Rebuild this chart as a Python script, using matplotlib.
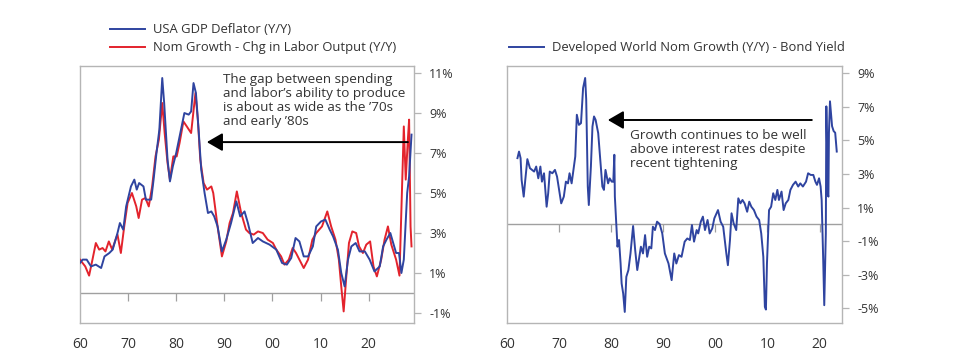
import numpy as np
import matplotlib
matplotlib.use("Agg")
import matplotlib.pyplot as plt
from matplotlib.markers import TICKDOWN

plt.rcParams['font.family'] = ['Open Sans', 'DejaVu Sans']

# Panneau gauche : déflateur du PIB US et croissance nominale - production du travail
defl_years = [1960.0, 1960.55, 1961.4, 1962.3, 1963.3, 1964.4, 1965.1, 1966.1, 1966.8, 1967.8,
              1968.3, 1969.0, 1969.6, 1970.6, 1971.3, 1971.8, 1972.3, 1973.2, 1973.7, 1974.8,
              1975.3, 1975.9, 1976.5, 1977.1, 1977.5, 1978.2, 1978.7, 1979.3, 1980.0, 1981.0,
              1981.7, 1982.6, 1983.1, 1983.6, 1984.1, 1984.7, 1985.2, 1985.9, 1986.6, 1987.3,
              1987.9, 1988.6, 1989.5, 1990.4, 1991.4, 1992.5, 1993.3, 1994.2, 1994.9, 1995.9,
              1997.0, 1998.0, 1999.4, 2000.8, 2002.0, 2003.0, 2003.9, 2004.8, 2005.6, 2006.5,
              2007.4, 2008.4, 2009.1, 2010.1, 2011.0, 2011.9, 2012.6, 2013.6, 2014.3, 2015.0,
              2015.7, 2016.4, 2017.3, 2018.1, 2019.2, 2020.2, 2021.2, 2022.3, 2023.0, 2023.7,
              2024.5, 2025.0, 2025.7, 2026.3, 2026.8, 2027.3, 2028.0, 2028.4, 2028.9]
defl_vals = [1.50, 1.67, 1.67, 1.33, 1.42, 1.25, 1.83, 2.0, 2.17, 3.0,
             3.5, 3.17, 4.33, 5.33, 5.67, 5.17, 5.5, 5.33, 4.67, 4.67,
             5.67, 7.0, 8.17, 10.75, 9.5, 6.67, 5.58, 6.33, 7.0, 8.17,
             9.0, 8.92, 9.08, 10.5, 10.0, 8.0, 6.17, 5.0, 4.0, 4.08,
             3.83, 3.33, 2.08, 2.67, 3.5, 4.58, 3.83, 4.08, 3.5, 2.5,
             2.75, 2.58, 2.42, 2.17, 1.5, 1.42, 1.75, 2.75, 2.58, 1.83,
             1.83, 2.33, 3.33, 3.58, 3.67, 3.17, 2.83, 2.17, 1.0, 0.33,
             1.67, 2.33, 2.5, 2.08, 2.08, 1.67, 1.08, 1.33, 2.33, 2.67,
             3.0, 2.58, 2.0, 2.0, 1.0, 1.67, 5.0, 5.83, 7.92]

nom_years = [1960.0, 1961.1, 1961.9, 1962.6, 1963.3, 1964.0, 1964.7, 1965.3, 1966.0, 1966.7,
             1967.4, 1967.8, 1968.5, 1969.2, 1969.9, 1970.8, 1971.7, 1972.2, 1972.9, 1973.6,
             1974.3, 1975.0, 1975.7, 1976.4, 1977.1, 1977.6, 1978.2, 1978.7, 1979.4, 1980.1,
             1980.7, 1981.5, 1982.2, 1983.1, 1984.0, 1984.5, 1985.0, 1985.7, 1986.4, 1987.3,
             1987.7, 1988.6, 1989.5, 1990.4, 1991.1, 1991.8, 1992.6, 1993.5, 1994.5, 1995.2,
             1996.1, 1997.0, 1998.0, 1999.0, 2000.1, 2000.8, 2001.8, 2002.5, 2003.4, 2004.2,
             2004.9, 2005.6, 2006.5, 2007.4, 2008.3, 2009.1, 2010.3, 2011.4, 2012.2, 2013.1,
             2013.8, 2014.3, 2014.8, 2015.3, 2015.9, 2016.6, 2017.4, 2018.0, 2018.8, 2019.5,
             2020.3, 2021.0, 2021.7, 2022.6, 2023.3, 2024.0, 2024.7, 2025.7, 2026.4, 2026.9,
             2027.3, 2027.7, 2028.1, 2028.4, 2028.7, 2028.9]
nom_vals = [1.67, 1.33, 0.87, 1.67, 2.5, 2.17, 2.25, 2.08, 2.58, 2.17,
            2.67, 2.92, 2.0, 3.33, 4.5, 5.0, 4.33, 3.75, 4.67, 4.75,
            4.33, 5.33, 6.83, 7.67, 9.5, 8.0, 6.5, 5.67, 6.83, 6.83,
            7.5, 8.58, 8.33, 8.0, 10.0, 8.67, 6.67, 5.5, 5.17, 5.33,
            5.0, 3.33, 1.83, 2.58, 3.5, 4.0, 5.08, 4.0, 3.17, 3.0,
            2.92, 3.08, 3.0, 2.67, 2.5, 2.17, 1.83, 1.42, 1.67, 2.25,
            2.0, 1.67, 1.25, 1.67, 2.67, 3.0, 3.33, 4.08, 3.33, 2.67,
            1.67, 0.33, -0.92, 0.67, 2.5, 3.08, 3.0, 2.33, 2.0, 2.42,
            2.58, 1.33, 0.83, 1.67, 2.67, 3.33, 2.42, 1.67, 0.87, 5.0,
            8.33, 5.67, 7.5, 8.67, 3.33, 2.33]

# Panneau droit : croissance nominale monde développé - rendement obligataire
dw_years = [1962.0, 1962.3, 1962.6, 1962.8, 1963.2, 1963.5, 1963.9, 1964.4, 1964.8, 1965.2,
            1965.6, 1966.0, 1966.4, 1966.7, 1967.1, 1967.6, 1967.9, 1968.2, 1968.7, 1969.2,
            1969.6, 1970.0, 1970.4, 1970.9, 1971.3, 1971.7, 1972.0, 1972.4, 1972.8, 1973.1,
            1973.4, 1973.8, 1974.2, 1974.6, 1975.0, 1975.2, 1975.5, 1975.7, 1976.1, 1976.4,
            1976.7, 1977.0, 1977.5, 1977.9, 1978.3, 1978.6, 1978.9, 1979.4, 1979.7, 1980.1,
            1980.4, 1980.6, 1980.7, 1981.0, 1981.2, 1981.5, 1981.8, 1982.0, 1982.3, 1982.6,
            1982.9, 1983.3, 1983.7, 1984.2, 1984.6, 1985.0, 1985.4, 1985.7, 1986.1, 1986.5,
            1986.9, 1987.3, 1987.7, 1988.0, 1988.4, 1988.8, 1989.3, 1989.8, 1990.3, 1991.0,
            1991.6, 1992.1, 1992.5, 1993.0, 1993.5, 1994.1, 1994.6, 1995.1, 1995.5, 1995.9,
            1996.4, 1996.7, 1997.2, 1997.6, 1998.0, 1998.5, 1998.9, 1999.4, 1999.8, 2000.5,
            2001.0, 2001.5, 2002.1, 2002.4, 2002.8, 2003.1, 2003.5, 2004.0, 2004.4, 2004.8,
            2005.2, 2005.6, 2006.1, 2006.5, 2006.9, 2007.4, 2007.9, 2008.4, 2008.8, 2009.2,
            2009.5, 2009.7, 2009.9, 2010.3, 2010.7, 2011.1, 2011.5, 2011.9, 2012.2, 2012.7,
            2013.1, 2013.5, 2014.0, 2014.4, 2014.9, 2015.4, 2015.9, 2016.3, 2016.8, 2017.4,
            2017.8, 2018.3, 2018.8, 2019.2, 2019.5, 2019.9, 2020.2, 2020.4, 2020.7, 2020.9,
            2021.2, 2021.3, 2021.6, 2021.7, 2021.8, 2022.0, 2022.4, 2022.7, 2023.0, 2023.3]
dw_vals = [3.94, 4.33, 3.94, 2.64, 1.65, 2.64, 3.88, 3.34, 3.24, 3.14,
           3.44, 2.74, 3.44, 2.54, 3.04, 1.05, 1.85, 3.14, 3.04, 3.24,
           2.84, 2.05, 1.25, 1.65, 2.54, 2.44, 3.04, 2.44, 3.34, 4.04,
           6.52, 5.92, 6.02, 8.11, 8.71, 7.42, 2.25, 1.15, 3.44, 5.82,
           6.42, 6.22, 5.43, 3.83, 2.25, 2.05, 3.24, 2.44, 2.74, 2.54,
           2.54, 4.14, 1.65, -0.14, -1.33, -0.93, -2.33, -3.52, -4.12, -5.21,
           -3.12, -2.72, -1.73, -0.10, -1.53, -2.72, -1.93, -1.33, -1.73, -0.64,
           -1.93, -1.33, -1.43, -0.14, -0.34, 0.16, 0.02, -0.54, -1.73, -2.33,
           -3.32, -1.73, -2.33, -1.83, -1.93, -1.03, -0.84, -0.93, -0.04, -1.03,
           -0.34, -0.54, 0.16, 0.46, -0.34, 0.26, -0.54, -0.24, 0.36, 0.85,
           0.16, -0.14, -1.73, -2.43, -0.93, 0.66, 0.06, -0.34, 1.55, 1.25,
           1.45, 1.25, 0.75, 1.35, 1.05, 0.85, 0.46, 0.26, -0.54, -1.93,
           -4.91, -5.07, -2.33, 0.85, 1.05, 1.85, 1.45, 2.05, 1.45, 1.95,
           0.85, 1.25, 1.45, 2.05, 2.35, 2.54, 2.25, 2.44, 2.25, 2.54,
           3.04, 2.94, 2.94, 2.54, 2.35, 2.74, 2.25, 1.45, -2.13, -4.81,
           -0.54, 7.02, 1.75, 1.65, 5.45, 7.32, 5.84, 5.55, 5.45, 4.33]

decades = [1960, 1970, 1980, 1990, 2000, 2010, 2020]
decade_labels = ['60', '70', '80', '90', '00', '10', '20']
left_yticks = [-1, 1, 3, 5, 7, 9, 11]
right_yticks = [-5, -3, -1, 1, 3, 5, 7, 9]

BLUE = '#2f44a0'
RED = '#e3232c'
TXT = '#333333'
GRID = '#b5b5b5'


def style_axis(ax, yticks, xlim, ylim):
    ax.set_xlim(*xlim)
    ax.set_ylim(*ylim)
    for s in ax.spines.values():
        s.set_color(GRID)
        s.set_linewidth(1.0)
    ax.axhline(0, color='#a0a0a0', lw=1.0, zorder=1)
    ax.plot(decades[1:], [0] * (len(decades) - 1), ls='none', marker=TICKDOWN,
            ms=6, mew=0.9, color='#a0a0a0', zorder=1, clip_on=False)
    ax.yaxis.tick_right()
    ax.set_yticks(yticks)
    ax.set_yticklabels([f'{v}%' for v in yticks])
    ax.tick_params(axis='y', length=5, width=0.9, color=GRID, labelsize=9,
                   labelcolor=TXT, pad=6)
    ax.set_xticks(decades)
    ax.set_xticklabels(decade_labels)
    ax.tick_params(axis='x', length=0, labelsize=10, labelcolor=TXT, pad=10)


fig = plt.figure(figsize=(9.68, 3.64), dpi=100)
ax1 = fig.add_axes([0.0826, 0.1126, 0.345, 0.706])
ax2 = fig.add_axes([0.5238, 0.1126, 0.346, 0.706])

style_axis(ax1, left_yticks, (1960, 2029.4), (-1.5, 11.35))
style_axis(ax2, right_yticks, (1960, 2024.3), (-5.87, 9.42))

ax1.plot(nom_years, nom_vals, color=RED, lw=1.4, label='Nom Growth - Chg in Labor Output (Y/Y)', zorder=3)
ax1.plot(defl_years, defl_vals, color=BLUE, lw=1.4, label='USA GDP Deflator (Y/Y)', zorder=4)
h, l = ax1.get_legend_handles_labels()
ax1.legend(h[::-1], l[::-1], loc='lower left', bbox_to_anchor=(0.09, 1.045), frameon=False,
           fontsize=9.4, handlelength=2.7, handletextpad=0.6, labelspacing=0.4,
           borderpad=0, borderaxespad=0, labelcolor=TXT)

ax2.plot(dw_years, dw_vals, color=BLUE, lw=1.4, label='Developed World Nom Growth (Y/Y) - Bond Yield')
ax2.legend(loc='lower left', bbox_to_anchor=(0.005, 1.045), frameon=False,
           fontsize=9.4, handlelength=2.7, handletextpad=0.6,
           borderpad=0, borderaxespad=0, labelcolor=TXT)

arrow = dict(arrowstyle='-|>,head_length=0.95,head_width=0.55', color='black',
             lw=1.4, mutation_scale=10, shrinkA=0, shrinkB=0)
ax1.annotate('', xy=(0.38, 0.704), xytext=(0.982, 0.704), xycoords='axes fraction',
             arrowprops=arrow)
ax1.text(0.428, 0.972, 'The gap between spending\nand labor’s ability to produce\n'
         'is about as wide as the ’70s\nand early ’80s',
         transform=ax1.transAxes, ha='left', va='top', fontsize=9.7, color=TXT,
         linespacing=1.08)

ax2.annotate('', xy=(0.301, 0.79), xytext=(0.91, 0.79), xycoords='axes fraction',
             arrowprops=arrow)
ax2.text(0.367, 0.755, 'Growth continues to be well\nabove interest rates despite\n'
         'recent tightening',
         transform=ax2.transAxes, ha='left', va='top', fontsize=9.7, color=TXT,
         linespacing=1.08)

fig.savefig('out.png', dpi=100)
